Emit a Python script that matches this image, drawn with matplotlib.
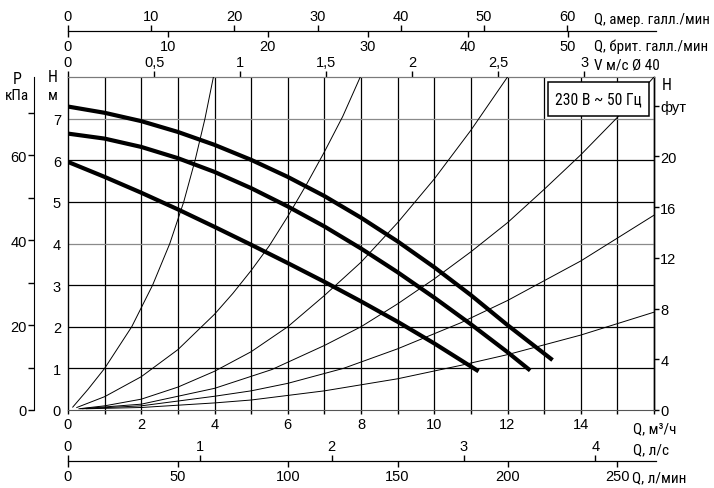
import matplotlib
matplotlib.use('Agg')
import matplotlib.pyplot as plt
from matplotlib.patches import Rectangle

plt.rcParams['font.family'] = ['Liberation Sans', 'DejaVu Sans']
NARROW = ['Roboto Condensed', 'Roboto', 'DejaVu Sans']

# ---------------- data (Q in m3/h, H in m) ----------------
pump1_q = [0, 1, 2, 3, 4, 5, 6, 7, 8, 9, 10, 11, 12, 13.23]
pump1_h = [7.29, 7.14, 6.94, 6.68, 6.37, 6.01, 5.60, 5.14, 4.62, 4.05, 3.43, 2.76, 2.04, 1.2]
pump2_q = [0, 1, 2, 3, 4, 5, 6, 7, 8, 9, 10, 11, 12, 12.62]
pump2_h = [6.64, 6.52, 6.32, 6.05, 5.72, 5.33, 4.89, 4.41, 3.88, 3.31, 2.70, 2.06, 1.39, 0.95]
pump3_q = [0, 1, 2, 3, 4, 5, 6, 7, 8, 9, 10, 11.21]
pump3_h = [5.96, 5.60, 5.22, 4.82, 4.40, 3.97, 3.53, 3.08, 2.61, 2.12, 1.60, 0.93]

sysA_q = [0.13, 0.55, 1.0, 1.74, 2.31, 2.78, 3.16, 3.47, 3.74, 3.97]
sysA_h = [0.07, 0.5, 1.0, 2.0, 3.0, 4.0, 5.0, 6.0, 7.0, 8.0]
sysB_q = [0.24, 1, 2, 3, 4, 4.5, 5, 5.5, 6, 6.5, 7, 7.5, 7.98]
sysB_h = [0.06, 0.32, 0.8, 1.45, 2.3, 2.8, 3.35, 3.95, 4.65, 5.4, 6.2, 7.05, 8.0]
sysC_q = [0.3, 1, 2, 3, 4, 5, 6, 7, 8, 9, 10, 11, 12]
sysC_h = [0.03, 0.1, 0.26, 0.55, 0.93, 1.4, 2.0, 2.75, 3.55, 4.5, 5.55, 6.72, 8.0]
sysD_q = [0.35, 2, 4, 5.56, 7, 8, 9, 10, 11, 12, 13, 14, 15, 16]
sysD_h = [0.03, 0.14, 0.52, 0.97, 1.55, 2.0, 2.55, 3.15, 3.8, 4.5, 5.3, 6.13, 7.03, 8.0]
sysE_q = [0.4, 2, 4, 5, 6, 7.52, 9, 10.71, 12, 14, 16]
sysE_h = [0.03, 0.1, 0.33, 0.46, 0.64, 1.0, 1.47, 2.09, 2.63, 3.58, 4.68]
sysF_q = [0.5, 2, 4, 5, 7, 9, 10.71, 12, 14, 16]
sysF_h = [0.03, 0.06, 0.17, 0.24, 0.46, 0.75, 1.07, 1.33, 1.8, 2.35]

q_ticks = list(range(0, 17))
h_ticks = list(range(0, 9))
ft_ticks = [0, 4, 8, 12, 16, 20, 24]
ft_labels = ['0', '4', '8', '12', '16', '20', 'фут']
kpa_major = [0, 20, 40, 60]
kpa_minor = [10, 30, 50, 70]
v_ticks = [0, 0.5, 1, 1.5, 2, 2.5, 3]
v_labels = ['0', '0,5', '1', '1,5', '2', '2,5', '3']
usg_ticks = [0, 10, 20, 30, 40, 50, 60]
impg_ticks = [0, 10, 20, 30, 40, 50]
ls_ticks = [0, 1, 2, 3, 4]
lmin_ticks = [0, 50, 100, 150, 200, 250]
legend_text = '230 В ~ 50 Гц'

# ---------------- layout ----------------
W, HH = 714, 489
fig = plt.figure(figsize=(W / 100, HH / 100), dpi=100)
L, R, B, T = 68, 654, 411, 78
fx = lambda px: px / W
fy = lambda py: 1 - py / HH
ax = fig.add_axes([fx(L), fy(B), (R - L) / W, (B - T) / HH])
ax.set_xlim(0, 16)
ax.set_ylim(0, 8)

ax.set_xticks(q_ticks)
ax.set_xticklabels([str(q) if (q % 2 == 0 and q < 16) else '' for q in q_ticks])
ax.set_yticks(h_ticks)
ax.set_yticklabels([str(h) if h < 8 else '' for h in h_ticks])
ax.tick_params(axis='x', direction='out', length=3, width=1, pad=2, labelsize=10.5)
ax.tick_params(axis='y', length=0, pad=5, labelsize=10.5)
ax.grid(axis='x', color='black', lw=0.9)
ax.grid(axis='y', color='black', lw=0.9)
for i, gl in enumerate(ax.yaxis.get_gridlines()):
    if h_ticks[i] in (4, 7):
        gl.set_color('#8a8a8a')
    if h_ticks[i] in (0, 8):
        gl.set_visible(False)
for i, gl in enumerate(ax.xaxis.get_gridlines()):
    if q_ticks[i] in (0, 16):
        gl.set_visible(False)
ax.set_axisbelow(True)
for s in ['left', 'right']:
    ax.spines[s].set_color('black')
    ax.spines[s].set_linewidth(1.0)
ax.spines['top'].set_color('#7a7a7a')
ax.spines['bottom'].set_color('#555555')

# system curves
for qq, hh in [(sysA_q, sysA_h), (sysB_q, sysB_h), (sysC_q, sysC_h),
               (sysD_q, sysD_h), (sysE_q, sysE_h), (sysF_q, sysF_h)]:
    ax.plot(qq, hh, color='black', lw=0.7, zorder=3, solid_joinstyle='round')
# pump curves
for qq, hh in [(pump1_q, pump1_h), (pump2_q, pump2_h), (pump3_q, pump3_h)]:
    ax.plot(qq, hh, color='black', lw=3.0, solid_capstyle='butt',
            solid_joinstyle='round', zorder=5)

# legend box
bx0, bx1, by0, by1 = 548, 649, 83, 117
ax.add_patch(Rectangle(((bx0 - L) / (R - L), (B - by1) / (B - T)),
                       (bx1 - bx0) / (R - L), (by1 - by0) / (B - T),
                       transform=ax.transAxes, facecolor='white', edgecolor='black',
                       lw=1.1, zorder=6))
leg = ax.text(((bx0 + bx1) / 2 - L) / (R - L), (B - (by0 + by1) / 2) / (B - T), legend_text,
              transform=ax.transAxes, ha='center', va='center', fontsize=12,
              family=NARROW, zorder=7)

# right feet axis
axr = ax.secondary_yaxis('right', functions=(lambda m: m / 0.3048, lambda f: f * 0.3048))
axr.set_yticks(ft_ticks)
axr.set_yticklabels(ft_labels)
axr.tick_params(direction='out', length=3.5, width=1, pad=1, labelsize=10.5)
axr.spines['right'].set_linewidth(1.0)

# top velocity axis
axv = ax.secondary_xaxis('top', functions=(lambda q: q / 4.70, lambda v: v * 4.70))
axv.set_xticks(v_ticks)
axv.set_xticklabels(v_labels)
axv.tick_params(direction='out', length=4, width=1, pad=1.5, labelsize=10.5)
axv.spines['top'].set_color('#7a7a7a')

# left pressure axis
axp = fig.add_axes([fx(34), fy(B), 0.0001, (B - T) / HH])
axp.set_ylim(0, 8)
axp.set_xticks([])
axp.set_yticks([p / 9.80665 for p in kpa_major])
axp.set_yticklabels([str(p) for p in kpa_major])
axp.set_yticks([p / 9.80665 for p in kpa_minor], minor=True)
axp.tick_params(axis='y', which='both', direction='out', length=4, width=1, pad=1, labelsize=10.5)
for s in ['top', 'right', 'bottom']:
    axp.spines[s].set_visible(False)
axp.patch.set_visible(False)

# gallons axis (top)
axg = fig.add_axes([fx(L), fy(32), (R + 2 - L) / W, 0.0001])
axg.set_xlim(0, 16 * (R + 2 - L) / (R - L))
axg.set_yticks([])
axg.set_xticks([g * 0.2271247 for g in usg_ticks])
axg.set_xticklabels([str(g) for g in usg_ticks])
axg.tick_params(axis='x', top=True, labeltop=True, bottom=False, labelbottom=False,
                direction='out', length=4, width=1, pad=1.5, labelsize=10.5)
for s in ['left', 'right', 'bottom']:
    axg.spines[s].set_visible(False)
axg.patch.set_visible(False)
axgi = axg.secondary_xaxis('bottom', functions=(lambda q: q / 0.2727654, lambda g: g * 0.2727654))
axgi.set_xticks(impg_ticks)
axgi.set_xticklabels([str(g) for g in impg_ticks])
axgi.tick_params(direction='out', length=4, width=1, pad=1.5, labelsize=10.5)

# litres axis (bottom)
axl = fig.add_axes([fx(L), fy(462), (R + 2 - L) / W, 0.0001])
axl.set_xlim(0, 16 * (R + 2 - L) / (R - L))
axl.set_yticks([])
axl.set_xticks([v * 3.6 for v in ls_ticks])
axl.set_xticklabels([str(v) for v in ls_ticks])
axl.tick_params(axis='x', top=True, labeltop=True, bottom=False, labelbottom=False,
                direction='out', length=4, width=1, pad=1.5, labelsize=10.5)
for s in ['left', 'right', 'bottom']:
    axl.spines[s].set_visible(False)
axl.patch.set_visible(False)
axlm = axl.secondary_xaxis('bottom', functions=(lambda q: q / 0.06, lambda v: v * 0.06))
axlm.set_xticks(lmin_ticks)
axlm.set_xticklabels([str(v) for v in lmin_ticks])
axlm.tick_params(direction='out', length=4, width=1, pad=1.5, labelsize=10.5)

# unit labels, sized to the widths seen in the reference
renderer = fig.canvas.get_renderer()


def fit(t, width_px):
    w = t.get_window_extent(renderer).width
    if w > width_px:
        t.set_fontsize(t.get_fontsize() * width_px / w)


def lab(px, py, s, size=11, ha='left', width=None):
    t = fig.text(fx(px), fy(py), s, ha=ha, va='center', fontsize=size, family=NARROW)
    if width:
        fit(t, width)
    return t


lab(594, 20, 'Q, амер. галл./мин', width=116)
lab(594, 47, 'Q, брит. галл./мин', width=114)
lab(594, 65, 'V м/с Ø 40', width=66)
lab(633, 429, 'Q, м³/ч', width=44)
lab(633, 450, 'Q, л/с', width=37)
lab(632, 478, 'Q, л/мин', width=58)
lab(662, 86, 'H', 11.5)
lab(17, 80, 'P', 11.5, 'center')
lab(17, 96, 'кПа', 11, 'center', width=24)
lab(53, 78, 'H', 11.5, 'center')
lab(53, 96, 'м', 11, 'center')
fit(leg, 86)

fig.savefig('out.png', dpi=100)
